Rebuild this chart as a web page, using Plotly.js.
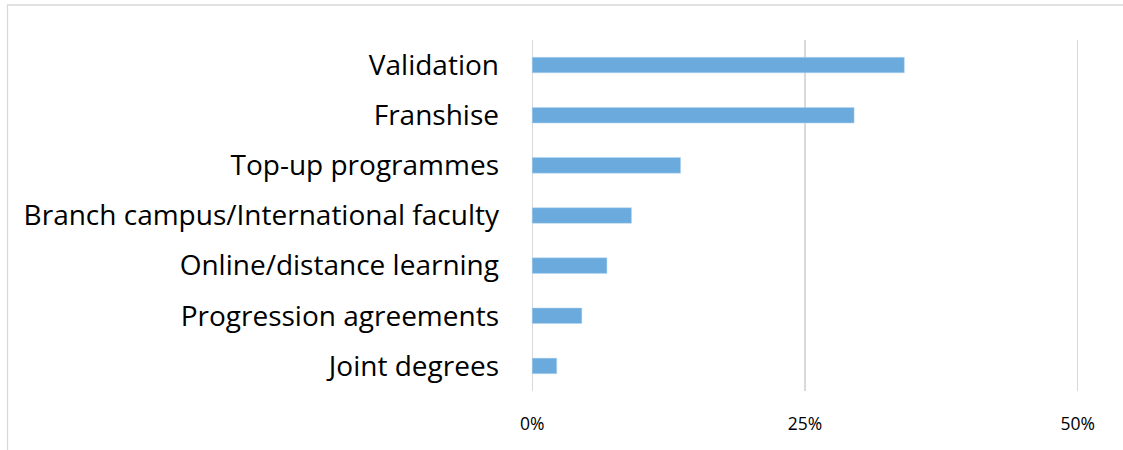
<!DOCTYPE html>
<html>
<head>
<meta charset="utf-8">
<script src="https://cdn.plot.ly/plotly-3.0.1.min.js"></script>
<style>
html,body{margin:0;padding:0;background:#fff;}
#chart{width:1123px;height:450px;}
</style>
</head>
<body>
<div id="chart"></div>
<script>
const categories = ["Validation","Franshise","Top-up programmes","Branch campus/International faculty","Online/distance learning","Progression agreements","Joint degrees"];
const values = [34.1, 29.5, 13.6, 9.1, 6.85, 4.55, 2.25];
const tickVals = [0, 25, 50];
const tickText = ["0%", "25%", "50%"];

const trace = {
  type: 'bar',
  orientation: 'h',
  y: categories,
  x: values,
  width: 0.31,
  marker: {color: '#6aaadd', line: {color: '#b9d6ef', width: 0.5}},
  hoverinfo: 'none'
};

const layout = {
  width: 1123, height: 450,
  margin: {l: 530, r: 43, t: 40, b: 59},
  paper_bgcolor: '#fff', plot_bgcolor: '#fff',
  showlegend: false,
  font: {family: '"Open Sans", sans-serif', color: '#000'},
  xaxis: {
    range: [-0.2, 50.2], tickvals: tickVals, ticktext: tickText,
    showgrid: true, gridcolor: '#d9d9d9', gridwidth: 1.3,
    zeroline: false, showline: false, ticks: '',
    tickfont: {size: 17.5, family: '"Open Sans", sans-serif', color: '#000'},
    ticklabelstandoff: 20, fixedrange: true
  },
  yaxis: {
    autorange: 'reversed', type: 'category',
    showgrid: false, zeroline: false, showline: false, ticks: '',
    tickfont: {size: 28, family: '"Open Sans", sans-serif', color: '#000'},
    ticklabelstandoff: 30, fixedrange: true
  },
  shapes: [{
    type: 'rect', xref: 'paper', yref: 'paper',
    x0: -0.95, x1: 1.2, y0: -0.3, y1: 1.0997,
    line: {color: '#d9d9d9', width: 1.3}, fillcolor: 'rgba(0,0,0,0)', layer: 'below'
  }]
};

Plotly.newPlot('chart', [trace], layout, {displayModeBar: false, staticPlot: true});
</script>
</body>
</html>
